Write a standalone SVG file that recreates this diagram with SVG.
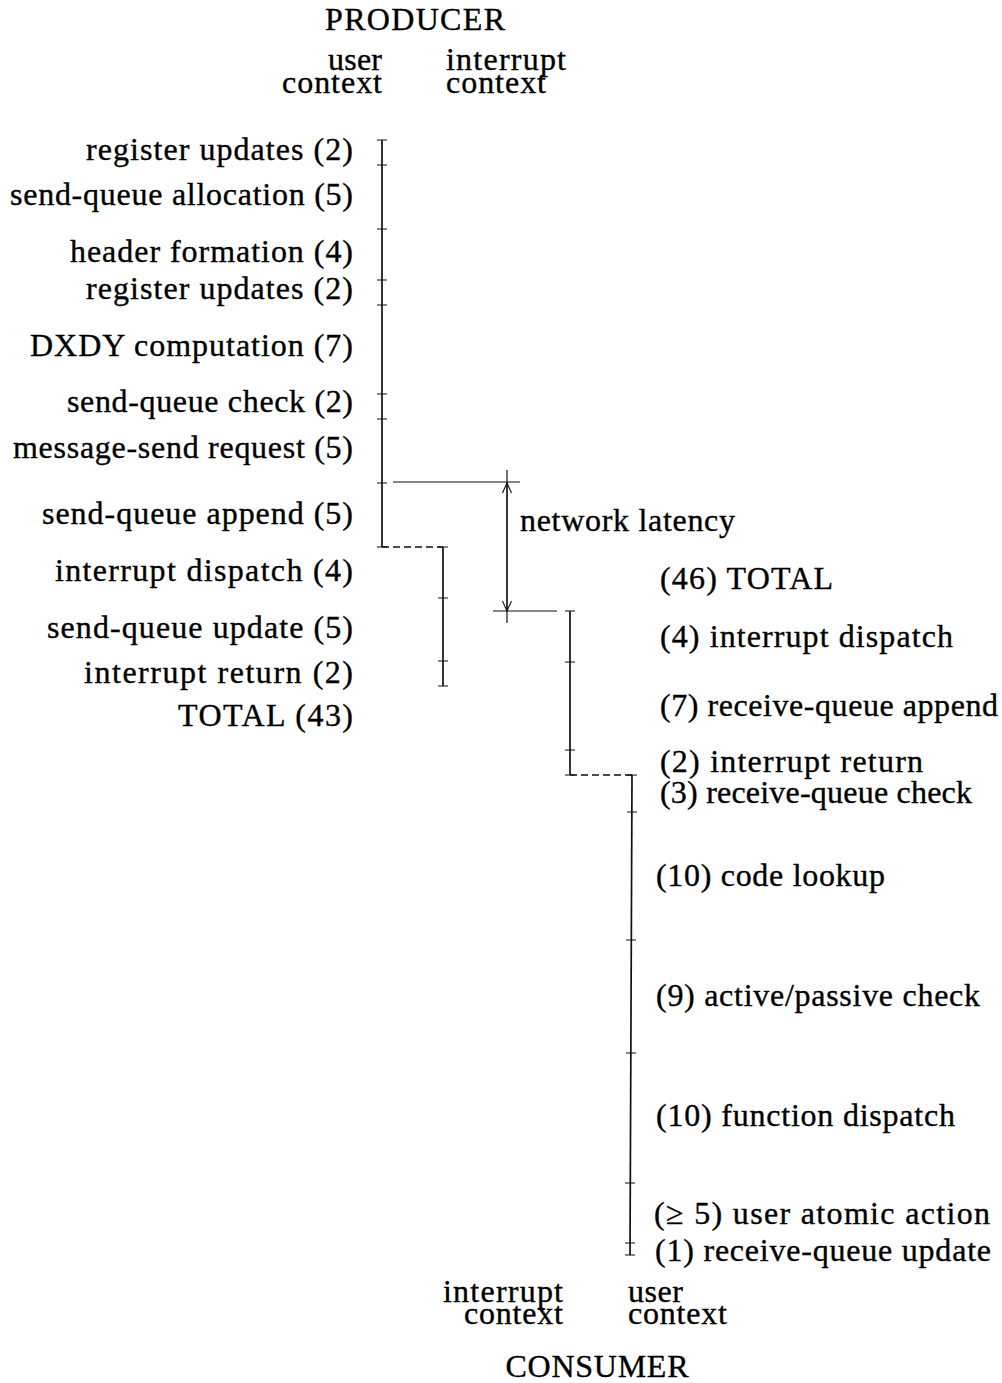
<svg xmlns="http://www.w3.org/2000/svg" width="1002" height="1383" viewBox="0 0 1002 1383">
  <style>
    text { font-family: "Liberation Serif", "Times New Roman", serif; font-size: 32px; fill: #000; stroke: #000; stroke-width: 0.35px; }
    .end { text-anchor: end; }
    .mid { text-anchor: middle; }
    .bar { stroke: #111; stroke-width: 1.7; fill: none; }
    .tick { stroke: #111; stroke-width: 1.2; fill: none; }
    .thin { stroke: #111; stroke-width: 1.2; fill: none; }
    .dash { stroke: #111; stroke-width: 1.3; fill: none; stroke-dasharray: 7 4; }
  </style>
  <defs>
    <marker id="vhead" viewBox="0 0 12 12" refX="11" refY="6" markerWidth="12" markerHeight="12" markerUnits="userSpaceOnUse" orient="auto-start-reverse">
      <path d="M1,1.5 L11,6 L1,10.5" fill="none" stroke="#111" stroke-width="1.1"/>
    </marker>
  </defs>

  <rect width="1002" height="1383" fill="#fff"/>

  <!-- headings -->
  <g id="producer-heading">
    <text class="mid" x="415" y="30" textLength="180" lengthAdjust="spacing">PRODUCER</text>
    <text class="end" x="382" y="70" textLength="54" lengthAdjust="spacing">user</text>
    <text class="end" x="382" y="93" textLength="100" lengthAdjust="spacing">context</text>
    <text x="446" y="70" textLength="120" lengthAdjust="spacing">interrupt</text>
    <text x="446" y="93" textLength="100" lengthAdjust="spacing">context</text>
  </g>

  <g id="consumer-heading">
    <text class="end" x="563" y="1302" textLength="120" lengthAdjust="spacing">interrupt</text>
    <text class="end" x="563" y="1324" textLength="99" lengthAdjust="spacing">context</text>
    <text x="628" y="1302" textLength="55" lengthAdjust="spacing">user</text>
    <text x="628" y="1324" textLength="99" lengthAdjust="spacing">context</text>
    <text class="mid" x="597" y="1377" textLength="183" lengthAdjust="spacing">CONSUMER</text>
  </g>

  <!-- producer, user context: 12.7 px per cycle -->
  <g id="producer-user">
    <line class="bar" x1="382" y1="140" x2="382" y2="547"/>
    <path class="tick" d="M377,140 H387 M377,165 H387 M377,229 H387 M377,280 H387 M377,305 H387 M377,394 H387 M377,419 H387 M377,483 H387 M377,547 H387"/>
    <text class="end" x="353" y="160" textLength="267" lengthAdjust="spacing">register updates (2)</text>
    <text class="end" x="353" y="205" textLength="343" lengthAdjust="spacing">send-queue allocation (5)</text>
    <text class="end" x="353" y="262" textLength="283" lengthAdjust="spacing">header formation (4)</text>
    <text class="end" x="353" y="299" textLength="267" lengthAdjust="spacing">register updates (2)</text>
    <text class="end" x="353" y="356" textLength="323" lengthAdjust="spacing">DXDY computation (7)</text>
    <text class="end" x="353" y="412" textLength="286" lengthAdjust="spacing">send-queue check (2)</text>
    <text class="end" x="353" y="458" textLength="340" lengthAdjust="spacing">message-send request (5)</text>
    <text class="end" x="353" y="524" textLength="311" lengthAdjust="spacing">send-queue append (5)</text>
  </g>

  <!-- producer, interrupt context -->
  <g id="producer-interrupt">
    <line class="bar" x1="443" y1="547" x2="443" y2="686"/>
    <path class="tick" d="M438,547 H448 M438,598 H448 M438,661 H448 M438,686 H448"/>
    <text class="end" x="353" y="581" textLength="298" lengthAdjust="spacing">interrupt dispatch (4)</text>
    <text class="end" x="353" y="638" textLength="306" lengthAdjust="spacing">send-queue update (5)</text>
    <text class="end" x="353" y="683" textLength="269" lengthAdjust="spacing">interrupt return (2)</text>
    <text class="end" x="353" y="726" textLength="175" lengthAdjust="spacing">TOTAL (43)</text>
  </g>

  <!-- consumer, interrupt context -->
  <g id="consumer-interrupt">
    <line class="bar" x1="570" y1="611" x2="570" y2="775"/>
    <path class="tick" d="M565,611 H575 M565,662 H575 M565,750 H575 M565,775 H575"/>
    <text x="660" y="589" textLength="173" lengthAdjust="spacing">(46) TOTAL</text>
    <text x="660" y="647" textLength="293" lengthAdjust="spacing">(4) interrupt dispatch</text>
    <text x="660" y="716" textLength="338" lengthAdjust="spacing">(7) receive-queue append</text>
    <text x="660" y="772" textLength="263" lengthAdjust="spacing">(2) interrupt return</text>
  </g>

  <!-- consumer, user context -->
  <g id="consumer-user">
    <line class="bar" x1="632" y1="775" x2="630" y2="1255"/>
    <path class="tick" d="M627,775 H637 M627,812 H637 M626,940 H636 M626,1053 H636 M625,1183 H635 M625,1243 H635 M625,1255 H635"/>
    <text x="660" y="803" textLength="312" lengthAdjust="spacing">(3) receive-queue check</text>
    <text x="656" y="886" textLength="229" lengthAdjust="spacing">(10) code lookup</text>
    <text x="656" y="1006" textLength="324" lengthAdjust="spacing">(9) active/passive check</text>
    <text x="656" y="1126" textLength="299" lengthAdjust="spacing">(10) function dispatch</text>
    <text x="654" y="1224" textLength="336" lengthAdjust="spacing">(≥ 5) user atomic action</text>
    <text x="655" y="1261" textLength="336" lengthAdjust="spacing">(1) receive-queue update</text>
  </g>

  <!-- connectors: context hand-offs and the network latency span -->
  <g id="connectors">
    <line class="dash" x1="382" y1="547" x2="443" y2="547"/>
    <line class="dash" x1="570" y1="775" x2="632" y2="775"/>
    <line class="thin" x1="393" y1="482" x2="520" y2="482"/>
    <line class="thin" x1="493" y1="611" x2="557" y2="611"/>
    <line class="thin" x1="507" y1="470" x2="507" y2="623"/>
    <line class="thin" x1="507" y1="483" x2="507" y2="611" marker-start="url(#vhead)" marker-end="url(#vhead)"/>
    <text x="520" y="531" textLength="215" lengthAdjust="spacing">network latency</text>
  </g>
</svg>
